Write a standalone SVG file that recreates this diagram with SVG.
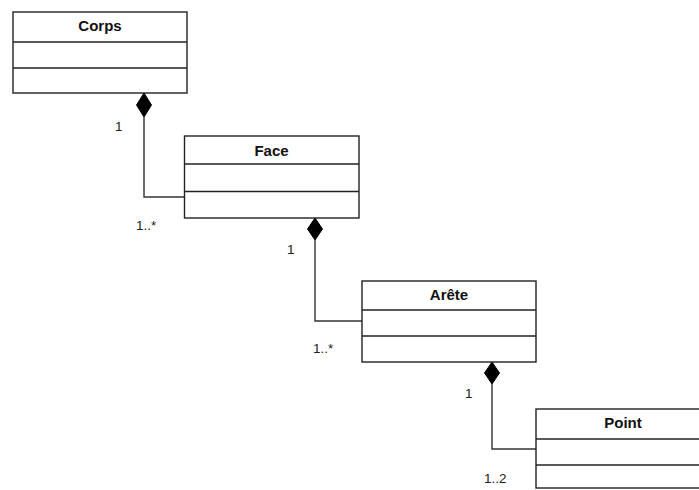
<svg xmlns="http://www.w3.org/2000/svg" width="699" height="490" viewBox="0 0 699 490">
<style>
.box{fill:#fff;stroke:#222;stroke-width:1.4}
.div{stroke:#222;stroke-width:1.4}
.title{font-family:"Liberation Sans",Arial,sans-serif;font-weight:bold;font-size:15px;fill:#111;text-anchor:middle}
.lbl{font-family:"Liberation Sans",Arial,sans-serif;font-size:13.5px;fill:#222}
.conn{fill:none;stroke:#333;stroke-width:1.4}
.dia{fill:#000;stroke:#000;stroke-width:1}
</style>
<rect width="699" height="490" fill="#fff"/>
<g id="connectors">
<path class="conn" d="M144,117 V197 H184.5"/>
<polygon class="dia" points="144,93 151.5,105 144,117 136.5,105"/>
<path class="conn" d="M315,240 V321 H362"/>
<polygon class="dia" points="315,218 322.5,229 315,240 307.5,229"/>
<path class="conn" d="M492,384 V449 H536"/>
<polygon class="dia" points="492,362 499.5,373 492,384 484.5,373"/>
<text class="lbl" x="115" y="131">1</text>
<text class="lbl" x="136" y="230">1..*</text>
<text class="lbl" x="287" y="254">1</text>
<text class="lbl" x="313" y="353">1..*</text>
<text class="lbl" x="465" y="398">1</text>
<text class="lbl" x="484" y="483">1..2</text>
</g>
<g id="corps">
<rect class="box" x="13" y="12" width="174" height="81"/>
<line class="div" x1="13" y1="42" x2="187" y2="42"/>
<line class="div" x1="13" y1="68" x2="187" y2="68"/>
<text class="title" x="100" y="31">Corps</text>
</g>
<g id="face">
<rect class="box" x="184.5" y="136" width="174.5" height="82"/>
<line class="div" x1="184.5" y1="164" x2="359" y2="164"/>
<line class="div" x1="184.5" y1="191.5" x2="359" y2="191.5"/>
<text class="title" x="271.5" y="156">Face</text>
</g>
<g id="arete">
<rect class="box" x="362" y="281" width="174" height="81"/>
<line class="div" x1="362" y1="310" x2="536" y2="310"/>
<line class="div" x1="362" y1="336" x2="536" y2="336"/>
<text class="title" x="449" y="300">Arête</text>
</g>
<g id="point">
<rect class="box" x="536" y="409" width="174" height="79"/>
<line class="div" x1="536" y1="439" x2="710" y2="439"/>
<line class="div" x1="536" y1="465" x2="710" y2="465"/>
<text class="title" x="623" y="428">Point</text>
</g>
</svg>
